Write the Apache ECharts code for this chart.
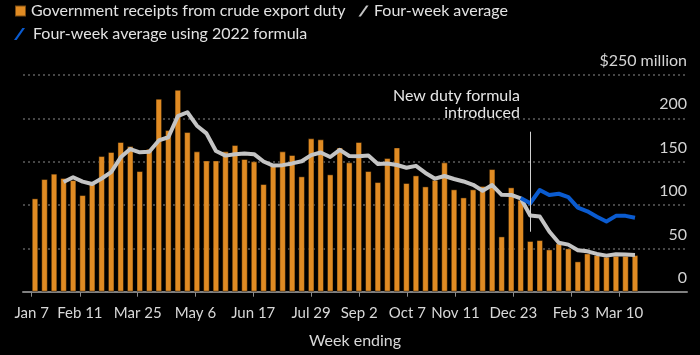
<!DOCTYPE html>
<html>
<head>
<meta charset="utf-8">
<script src="https://cdn.jsdelivr.net/npm/echarts@6/dist/echarts.min.js"></script>
<style>
html,body{margin:0;padding:0;background:#000;}
#chart{width:700px;height:355px;}
</style>
</head>
<body>
<div id="chart"></div>
<script>
const categories = [
  '2022-01-07','2022-01-14','2022-01-21','2022-01-28','2022-02-04','2022-02-11','2022-02-18','2022-02-25',
  '2022-03-04','2022-03-11','2022-03-18','2022-03-25','2022-04-01','2022-04-08','2022-04-15','2022-04-22',
  '2022-04-29','2022-05-06','2022-05-13','2022-05-20','2022-05-27','2022-06-03','2022-06-10','2022-06-17',
  '2022-06-24','2022-07-01','2022-07-08','2022-07-15','2022-07-22','2022-07-29','2022-08-05','2022-08-12',
  '2022-08-19','2022-08-26','2022-09-02','2022-09-09','2022-09-16','2022-09-23','2022-09-30','2022-10-07',
  '2022-10-14','2022-10-21','2022-10-28','2022-11-04','2022-11-11','2022-11-18','2022-11-25','2022-12-02',
  '2022-12-09','2022-12-16','2022-12-23','2022-12-30','2023-01-06','2023-01-13','2023-01-20','2023-01-27',
  '2023-02-03','2023-02-10','2023-02-17','2023-02-24','2023-03-03','2023-03-10','2023-03-17','2023-03-24'
];

const receipts = [
  107.7,130,136.2,131.2,128.8,111.5,125,156.5,161.2,172.7,168,139.2,165,222.7,186.5,233,
  184.2,161.9,151.5,151.5,161.9,169.2,153.1,150.4,124.2,148,161.9,157.7,133.1,176.9,175.8,135.4,
  166.5,149.2,172.7,139.2,126.5,154.2,166.5,125.4,134.2,121.5,129,149.2,118.1,108.8,118.1,122,
  141.5,63.8,120.4,106,58.5,59.6,48.8,55.8,50,35,44.2,42.3,40.4,41.5,41.5,42.3
];

const fourWeekAvg = [
  null,null,null,126.5,132,127,124.2,130.6,138,155,164.6,160.8,161.5,174.5,178.2,202.5,
  207,191.5,182.7,162.3,157,158.5,159.3,158.7,150.2,145.5,146,148,150.5,157.5,160.6,155.4,
  163.6,156.6,156.2,157,147.3,148,146.2,143,145.2,137,130.4,133.5,130,127.2,123.3,116.5,
  123,111.8,111.7,107.7,88,86.8,69.5,56.5,54.3,47.8,46.6,43.6,41.6,43.2,42.8,42.3
];

const fourWeekAvg2022 = [
  null,null,null,null,null,null,null,null,null,null,null,null,null,null,null,null,
  null,null,null,null,null,null,null,null,null,null,null,null,null,null,null,null,
  null,null,null,null,null,null,null,null,null,null,null,null,null,null,null,null,
  null,null,null,108,102,117.3,111.5,113,109.2,97,92.7,86.5,81,87.5,87.5,85.4
];

const tickWeeks = [0,5,11,17,23,29,34,39,44,50,56,61];
const tickLabels = ['Jan 7','Feb 11','Mar 25','May 6','Jun 17','Jul 29','Sep 2','Oct 7','Nov 11','Dec 23','Feb 3','Mar 10'];

const FONT = 'Source Sans Pro, Lato, sans-serif';
const ORANGE = '#e08b23';
const GREY = '#c4c4c4';
const BLUE = '#0a5bd0';
const SLASH = 'path://M0,12 L2.6,12 L11,0 L8.4,0 Z';
const SQUARE = 'path://M0,0 L10,0 L10,10 L0,10 Z';

const chart = echarts.init(document.getElementById('chart'), null, {renderer: 'canvas'});
chart.setOption({
  backgroundColor: '#000',
  animation: false,
  textStyle: {fontFamily: FONT},
  legend: [
    {
      left: 14, top: 3, padding: 0, itemGap: 13, itemWidth: 11, itemHeight: 11,
      selectedMode: false,
      textStyle: {color: '#e2e2e2', fontSize: 16, fontFamily: FONT},
      data: [
        {name: 'Government receipts from crude export duty', icon: SQUARE},
        {name: 'Four-week average', icon: SLASH}
      ]
    },
    {
      left: 14, top: 26, padding: 0, itemWidth: 13, itemHeight: 12,
      selectedMode: false,
      textStyle: {color: '#e2e2e2', fontSize: 16, fontFamily: FONT, padding: [0, 0, 0, 2]},
      data: [{name: 'Four-week average using 2022 formula', icon: SLASH}]
    }
  ],
  grid: [
    {left: 23, right: 13, top: 75, bottom: 63.3, containLabel: false, outerBoundsMode: 'none'},
    {left: 30.24, right: 60.24, top: 75, bottom: 63.3, containLabel: false, outerBoundsMode: 'none'}
  ],
  xAxis: [
    {
      type: 'value', gridIndex: 0, min: -0.903, max: 68.03,
      axisLine: {show: true, lineStyle: {color: '#808080', width: 2}},
      axisTick: {show: true, customValues: tickWeeks, length: 5, lineStyle: {color: '#8a8a8a', width: 1}},
      axisLabel: {
        show: true, customValues: tickWeeks, color: '#d8d8d8', fontSize: 15, margin: 14,
        fontFamily: FONT,
        formatter: function (v) { const i = tickWeeks.indexOf(Math.round(v)); return i >= 0 ? tickLabels[i] : ''; }
      },
      splitLine: {show: false},
      name: 'Week ending', nameLocation: 'middle', nameGap: 41,
      nameTextStyle: {color: '#d8d8d8', fontSize: 16, fontFamily: FONT}
    },
    {
      type: 'category', gridIndex: 1, data: categories, boundaryGap: true, show: false
    }
  ],
  yAxis: [
    {
      type: 'value', gridIndex: 0, min: 0, max: 250, interval: 50, position: 'right',
      axisLine: {show: false}, axisTick: {show: false},
      splitLine: {show: true, lineStyle: {color: '#5e5e5e', width: 1.5, type: [2, 3]}},
      axisLabel: {
        inside: true, margin: 0, verticalAlign: 'bottom', padding: [0, 0, 6, 0],
        color: '#d4d4d4', fontSize: 16, fontFamily: FONT,
        formatter: function (v) { return v === 250 ? '$250 million' : String(v); }
      }
    },
    {type: 'value', gridIndex: 1, min: 0, max: 250, show: false}
  ],
  series: [
    {
      name: 'Government receipts from crude export duty',
      type: 'bar', xAxisIndex: 1, yAxisIndex: 1, data: receipts, barWidth: '69%',
      itemStyle: {color: ORANGE, borderColor: 'rgba(0,0,0,0.45)', borderWidth: 1},
      markLine: {
        silent: true, symbol: 'none', label: {show: false},
        lineStyle: {color: '#d0d0d0', width: 1, type: 'solid'},
        data: [[{coord: [categories[52], 184.6]}, {coord: [categories[52], 69.2]}]]
      }
    },
    {
      name: 'Four-week average', type: 'line', xAxisIndex: 1, yAxisIndex: 1,
      data: fourWeekAvg, symbol: 'none', showSymbol: false,
      lineStyle: {color: GREY, width: 4, join: 'round'}, itemStyle: {color: GREY}
    },
    {
      name: 'Four-week average using 2022 formula', type: 'line', xAxisIndex: 1, yAxisIndex: 1,
      data: fourWeekAvg2022, symbol: 'none', showSymbol: false,
      lineStyle: {color: BLUE, width: 4, join: 'round'}, itemStyle: {color: BLUE}
    }
  ],
  graphic: [
    {
      type: 'text', x: 520, y: 88,
      style: {
        text: 'New duty formula', fill: '#e6e6e6', fontSize: 16, fontFamily: FONT,
        align: 'right', verticalAlign: 'top'
      }
    },
    {
      type: 'text', x: 520, y: 105,
      style: {
        text: 'introduced', fill: '#e6e6e6', fontSize: 16, fontFamily: FONT,
        align: 'right', verticalAlign: 'top'
      }
    }
  ]
});
</script>
</body>
</html>
